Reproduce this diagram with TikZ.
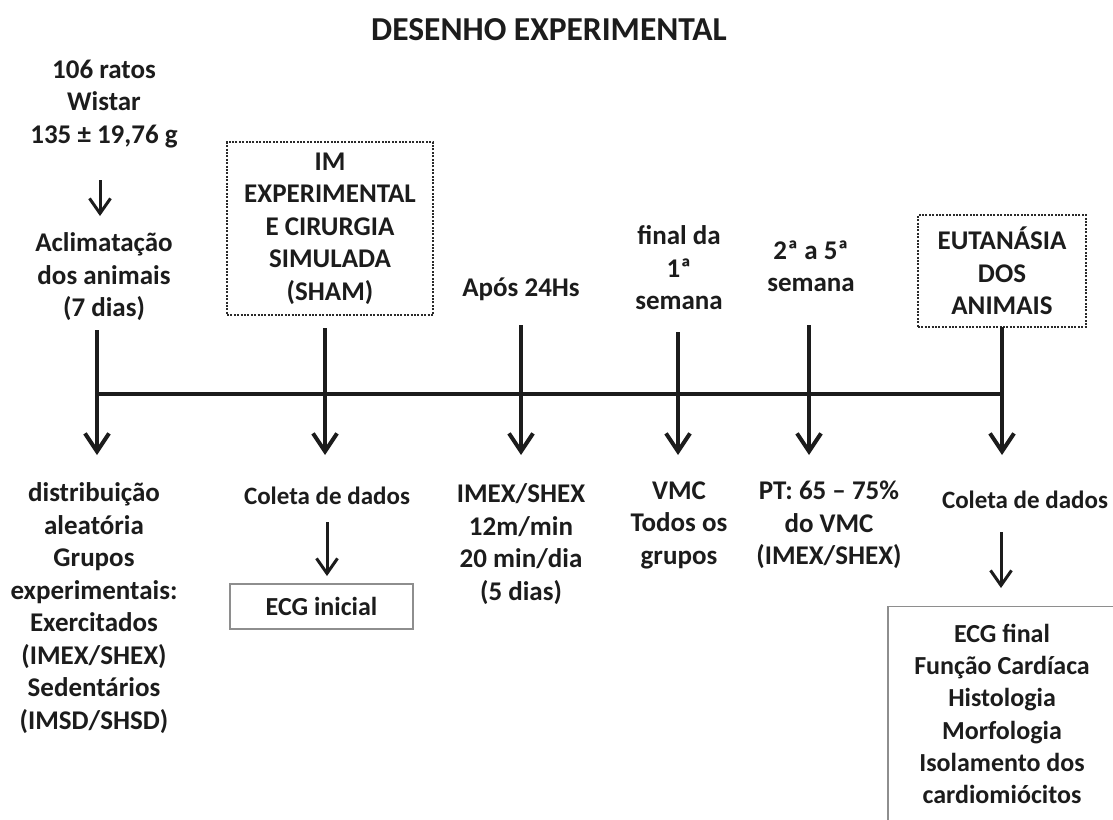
\documentclass[tikz,border=0pt]{standalone}
\usepackage{fontspec}
\setmainfont{Carlito}
\usetikzlibrary{arrows.meta,positioning}
\definecolor{ink}{HTML}{1C1C1C}
\definecolor{dotgray}{HTML}{2A2A2A}
\definecolor{boxgray}{HTML}{8E8E8E}

\begin{document}
\begin{tikzpicture}[
    x=1pt, y=-1pt,
    txt/.style={align=center, inner sep=0pt, text=ink, font=\fontsize{27}{32.5}\selectfont\bfseries},
    small/.style={txt, font=\fontsize{25}{32.5}\selectfont\bfseries},
    headline/.style={txt, font=\fontsize{33.5}{38}\selectfont\bfseries},
    dotbox/.style={txt, draw=dotgray, line width=2.4pt, dash pattern=on 2pt off 1.4pt},
    ecgbox/.style={txt, font=\fontsize{26}{32.2}\selectfont\bfseries, draw=boxgray, line width=1.2pt},
    mainline/.style={line width=4pt, draw=ink},
    mainarrow/.style={mainline, -{Straight Barb[length=18pt, width=24pt]}},
    thinarrow/.style={line width=3pt, draw=ink, -{Straight Barb[length=15pt, width=21pt]}}
]
\clip (0,0) rectangle (1113,819);
\fill[white] (0,0) rectangle (1113,819);

\node[headline] (title) at (549,30) {DESENHO EXPERIMENTAL};

\node[txt] (ratos) at (104,104) {106 ratos\\Wistar\\135 ± 19,76 g};
\node[txt] (acl) at (104,277) {Aclimatação\\dos animais\\(7 dias)};
\node[dotbox, minimum width=206, minimum height=173] (im) at (330,228.5) {IM\\EXPERIMENTAL\\E CIRURGIA\\SIMULADA\\(SHAM)};
\node[txt] (apos) at (521,289) {Após 24Hs};
\node[txt] (fin) at (679,268) {final da\\1ª\\semana};
\node[txt] (sem) at (811,266) {2ª a 5ª\\semana};
\node[dotbox, minimum width=168, minimum height=112] (eut) at (1002,271) {EUTANÁSIA\\DOS\\ANIMAIS};

\node[txt] (dist) at (94,608) {distribuição\\aleatória\\Grupos\\experimentais:\\Exercitados\\(IMEX/SHEX)\\Sedentários\\(IMSD/SHSD)};
\node[small] (col1) at (327,496) {Coleta de dados};
\node[ecgbox, minimum width=183, minimum height=45] (ecgi) at (321.5,606.5) {ECG inicial};
\node[txt] (imex) at (521,544) {IMEX/SHEX\\12m/min\\20 min/dia\\(5 dias)};
\node[txt] (vmc) at (679,525) {VMC\\Todos os\\grupos};
\node[txt] (pt) at (829,525) {PT: 65 – 75\%\\do VMC\\(IMEX/SHEX)};
\node[small] (col2) at (1025,500) {Coleta de dados};
\node[ecgbox, minimum width=228, minimum height=215] (ecgf) at (1002,714) {ECG final\\Função Cardíaca\\Histologia\\Morfologia\\Isolamento dos\\cardiomiócitos};

\foreach \i/\x/\s in {1/97/330, 2/325/328, 3/521/325, 4/678/332, 5/809/325, 6/1002/327} {
    \coordinate (top\i) at (\x,\s);
    \coordinate (bar\i) at (\x,394);
    \coordinate (tip\i) at (\x,455);
}
\draw[mainline] (bar1) -- (bar6);
\foreach \i in {1,...,6}
    \draw[mainarrow] (top\i) -- (tip\i);

\coordinate (a1) at (100,180);
\coordinate (a2) at (100,216);
\coordinate (b1) at (327,522);
\coordinate (b2) at (327,576);
\coordinate (c1) at (1001,532);
\coordinate (c2) at (1001,588);
\draw[thinarrow] (a1) -- (a2);
\draw[thinarrow] (b1) -- (b2);
\draw[thinarrow] (c1) -- (c2);
\end{tikzpicture}
\end{document}
